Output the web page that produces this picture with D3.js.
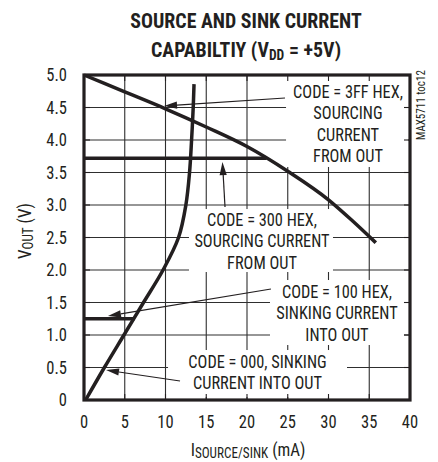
<!DOCTYPE html>
<html><head><meta charset="utf-8">
<script src="https://cdn.jsdelivr.net/npm/d3@7"></script>
<style>
body{margin:0;background:#fff;}
svg text{font-family:"Liberation Sans Narrow","Arial Narrow","Roboto Condensed","Liberation Sans",sans-serif;fill:#231f20;}
</style></head><body>
<svg id="c" width="438" height="462"></svg>
<script>
// ---- data ----
const xTicks = [0, 5, 10, 15, 20, 25, 30, 35, 40];
const xTickLabels = ["0", "5", "10", "15", "20", "25", "30", "35", "40"];
const yTicks = [0, 0.5, 1, 1.5, 2, 2.5, 3, 3.5, 4, 4.5, 5];
const yTickLabels = ["0", "0.5", "1.0", "1.5", "2.0", "2.5", "3.0", "3.5", "4.0", "4.5", "5.0"];

// CODE = 3FF HEX (sourcing)
const code3FF_I = [0, 5, 10, 15, 20, 25, 30, 33, 35.8];
const code3FF_V = [5.0, 4.74, 4.48, 4.2, 3.9, 3.52, 3.08, 2.75, 2.42];
// CODE = 300 HEX (sourcing)
const code300_I = [0, 22.4];
const code300_V = [3.72, 3.72];
// CODE = 100 HEX (sinking)
const code100_I = [0, 6.2];
const code100_V = [1.25, 1.25];
// CODE = 000 (sinking)
const code000_I = [0.2, 2.5, 4.9, 7.3, 9.7, 11.6, 12.5, 12.95, 13.2, 13.4, 13.5];
const code000_V = [0, 0.5, 1.0, 1.5, 2.0, 2.5, 3.0, 3.5, 4.0, 4.5, 4.86];

const label3FF = ["CODE = 3FF HEX,", "SOURCING", "CURRENT", "FROM OUT"];
const label300 = ["CODE = 300 HEX,", "SOURCING CURRENT", "FROM OUT"];
const label100 = ["CODE = 100 HEX,", "SINKING CURRENT", "INTO OUT"];
const label000 = ["CODE = 000, SINKING", "CURRENT INTO OUT"];

// ---- layout ----
const svg = d3.select("#c");
const x = d3.scaleLinear().domain([0, 40]).range([84, 410]);
const y = d3.scaleLinear().domain([0, 5]).range([400, 75]);
const ink = "#231f20";

function txt(parent, px, py, size, sx, anchor, rot) {
  return parent.append("text")
    .attr("transform", `translate(${px},${py})${rot ? " rotate(" + rot + ")" : ""} scale(${sx},1)`)
    .attr("font-size", size).attr("text-anchor", anchor || "start");
}

// gridlines
const g = svg.append("g");
g.selectAll("line.vx").data(xTicks.slice(1, -1)).join("line")
  .attr("x1", d => x(d)).attr("x2", d => x(d)).attr("y1", y(0)).attr("y2", y(5))
  .attr("stroke", "#2e2e2e").attr("stroke-width", 1.1);
g.selectAll("line.hy").data(yTicks.slice(1, -1)).join("line")
  .attr("y1", d => y(d)).attr("y2", d => y(d)).attr("x1", x(0)).attr("x2", x(40))
  .attr("stroke", "#2e2e2e").attr("stroke-width", 1.1);

// annotation blocks (positions in data units)
const annots = [
  {lines: label3FF, cx: 32.39, base: 4.646, box: [24.79, 39.75, 4.985, 3.585], arrow: [[24.66, 4.646], [9.82, 4.523]]},
  {lines: label300, cx: 21.84, base: 2.677, box: [12.88, 30.55, 2.938, 1.969], arrow: [[17.30, 2.969], [16.99, 3.66]]},
  {lines: label100, cx: 31.04, base: 1.569, box: [22.82, 39.26, 1.846, 0.846], arrow: [[22.94, 1.708], [2.94, 1.292]]},
  {lines: label000, cx: 21.29, base: 0.492, box: [10.31, 32.27, 0.769, 0.046], arrow: [[11.78, 0.292], [2.70, 0.46]]}
];
const lineGap = 21.3;

// white boxes
svg.append("g").selectAll("rect").data(annots).join("rect")
  .attr("x", d => x(d.box[0])).attr("y", d => y(d.box[2]))
  .attr("width", d => x(d.box[1]) - x(d.box[0])).attr("height", d => y(d.box[3]) - y(d.box[2]))
  .attr("fill", "#fff");

// inward ticks on all borders
const tk = svg.append("g").attr("stroke", ink).attr("stroke-width", 1.1);
xTicks.slice(1, -1).forEach(t => {
  tk.append("line").attr("x1", x(t)).attr("x2", x(t)).attr("y1", y(0)).attr("y2", y(0) - 6);
  tk.append("line").attr("x1", x(t)).attr("x2", x(t)).attr("y1", y(5)).attr("y2", y(5) + 6);
});
yTicks.slice(1, -1).forEach(t => {
  tk.append("line").attr("y1", y(t)).attr("y2", y(t)).attr("x1", x(40)).attr("x2", x(40) - 6);
  tk.append("line").attr("y1", y(t)).attr("y2", y(t)).attr("x1", x(0)).attr("x2", x(0) + 6);
});

// curves
const series = [
  {I: code3FF_I, V: code3FF_V, curve: d3.curveMonotoneX},
  {I: code300_I, V: code300_V, curve: d3.curveLinear},
  {I: code100_I, V: code100_V, curve: d3.curveLinear},
  {I: code000_I, V: code000_V, curve: d3.curveCatmullRom.alpha(0.5)}
];
series.forEach(s => {
  const pts = s.I.map((v, i) => [v, s.V[i]]);
  svg.append("path").datum(pts)
    .attr("d", d3.line().x(d => x(d[0])).y(d => y(d[1])).curve(s.curve))
    .attr("fill", "none").attr("stroke", ink).attr("stroke-width", 3.5).attr("stroke-linecap", "butt");
});

// arrows
annots.forEach(a => {
  const [p0, p1] = a.arrow;
  const x0 = x(p0[0]), y0 = y(p0[1]), x1 = x(p1[0]), y1 = y(p1[1]);
  const ang = Math.atan2(y1 - y0, x1 - x0);
  const L = 13, W = 3.6;
  const bx = x1 - L * Math.cos(ang), by = y1 - L * Math.sin(ang);
  svg.append("line").attr("x1", x0).attr("y1", y0).attr("x2", bx).attr("y2", by)
    .attr("stroke", ink).attr("stroke-width", 1.2);
  const pts = [[x1, y1],
    [bx + W * Math.sin(ang), by - W * Math.cos(ang)],
    [bx - W * Math.sin(ang), by + W * Math.cos(ang)]];
  svg.append("polygon").attr("points", pts.map(p => p.join(",")).join(" ")).attr("fill", ink);
});

// frame
svg.append("rect").attr("x", x(0)).attr("y", y(5)).attr("width", x(40) - x(0)).attr("height", y(0) - y(5))
  .attr("fill", "none").attr("stroke", ink).attr("stroke-width", 3.2);

// annotation text
annots.forEach(a => {
  a.lines.forEach((t, i) => {
    txt(svg, x(a.cx), y(a.base) + i * lineGap, 19, 0.86, "middle").text(t);
  });
});

// tick labels
xTicks.forEach((d, i) => {
  txt(svg, x(d), 428, 18, 0.92, "middle").text(xTickLabels[i]);
});
yTicks.forEach((d, i) => {
  txt(svg, 67, y(d) + 6.3, 18, 0.92, "end").text(yTickLabels[i]);
});

// title
const title = txt(svg, 246, 28, 20.5, 0.97, "middle").attr("font-weight", "bold");
title.append("tspan").text("SOURCE AND SINK CURRENT");
const t2 = txt(svg, 246, 56.5, 20.5, 0.97, "middle").attr("font-weight", "bold");
t2.append("tspan").text("CAPABILTIY (V");
t2.append("tspan").attr("font-size", 14).attr("dy", 3).text("DD");
t2.append("tspan").attr("dy", -3).text(" = +5V)");

// axis titles
const xt = txt(svg, 248, 456, 18, 0.94, "middle");
xt.append("tspan").text("I");
xt.append("tspan").attr("font-size", 14).attr("dy", 2).text("SOURCE/SINK");
xt.append("tspan").attr("dy", -2).text(" (mA)");

const yt = txt(svg, 31, 231, 18, 0.94, "middle", -90);
yt.append("tspan").text("V");
yt.append("tspan").attr("font-size", 14).attr("dy", 2).text("OUT");
yt.append("tspan").attr("dy", -2).text(" (V)");

txt(svg, 425, 140, 12, 0.92, "start", -90).text("MAX5711 toc12");
</script>
</body></html>
